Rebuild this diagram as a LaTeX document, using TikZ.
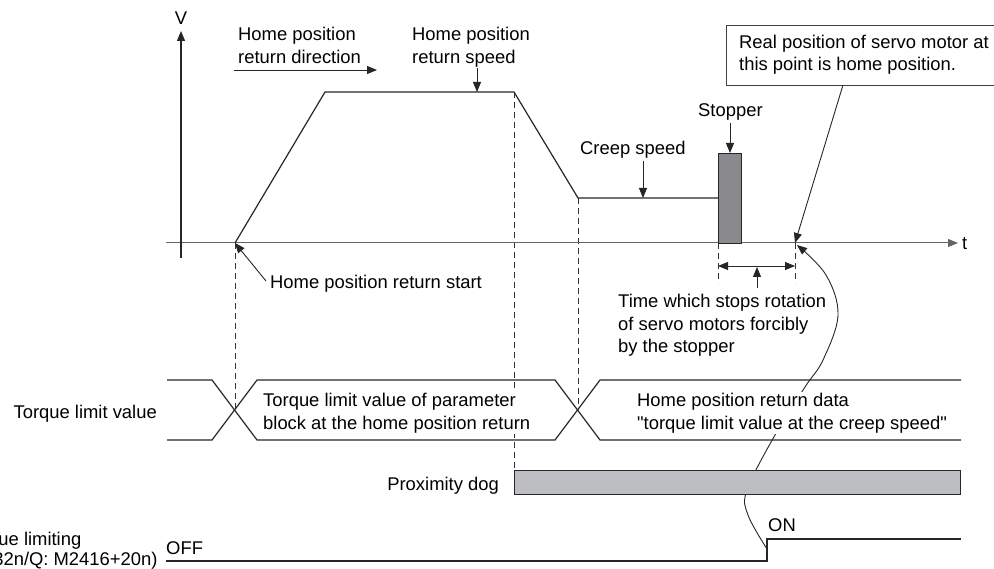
\documentclass[tikz,border=0pt]{standalone}
\usepackage{fontspec}
\setmainfont{Liberation Sans}
\usetikzlibrary{arrows.meta}
\newcommand\lblfont{\fontsize{18.4}{22.5}\selectfont}
\definecolor{stopgray}{HTML}{8A8A8E}
\definecolor{doggray}{HTML}{BDBEC1}
\tikzset{
  lbl/.style={font=\lblfont, inner sep=0pt, align=left},
  wlbl/.style={lbl, fill=white, inner sep=1pt},
  ln/.style={line width=1.2pt, black!85},
  thin/.style={line width=0.9pt, black!85},
  dsh/.style={line width=0.9pt, black!80, dash pattern=on 6pt off 4pt},
  tip/.style={-{Triangle[length=10pt,width=8pt]}},
  tipboth/.style={{Triangle[length=10pt,width=8pt]}-{Triangle[length=10pt,width=8pt]}},
}
\begin{document}
\begin{tikzpicture}[x=1pt,y=-1pt]
\useasboundingbox (0,0) rectangle (994,569);
\clip (0,0) rectangle (994,569);
% key coordinates
\coordinate (o) at (181,243);
\coordinate (vtop) at (181,31);
\coordinate (vbot) at (181,258);
\coordinate (tl) at (166,243);
\coordinate (tr) at (958,243);
\coordinate (p0) at (235,243);
\coordinate (p1) at (325,92);
\coordinate (p2) at (514,92);
\coordinate (p3) at (578,198);
\coordinate (p4) at (718,198);
\coordinate (hp) at (795,243);
% dashed guides
\coordinate (d1b) at (235,410);
\coordinate (d2b) at (514,470);
\coordinate (d3b) at (578,410);
\coordinate (d4b) at (718,283);
\coordinate (d5b) at (795,283);
\draw[dsh] (p0) -- (d1b);
\draw[dsh] (p2) -- (d2b);
\draw[dsh] (p3) -- (d3b);
\draw[dsh] (p4 |- o) -- (d4b);
\draw[dsh] (hp) -- (d5b);
% curved pointer from ON edge to home position
\draw[thin, tip] plot[smooth, tension=0.6] coordinates {(767,549) (748,515) (747,490) (775,435) (805,387) (823,360) (838,315) (826,275) (797,245)};
% axes
\draw[line width=1pt, black!60, tip] (tl) -- (tr);
\draw[ln, tip] (vbot) -- (vtop);
\node[lbl, anchor=base] (V) at (181,25) {V};
\node[lbl, anchor=base west] (t) at (962,250) {t};
% velocity profile
\draw[ln] (p0) -- (p1) -- (p2) -- (p3) -- (p4);
% stopper
\node[draw=black!85, line width=1.2pt, fill=stopgray, minimum width=23pt, minimum height=90pt, inner sep=0pt, anchor=north west] (stop) at (718,153) {};
% labels velocity part
\node[lbl, anchor=base west] (dirl) at (238,63.5) {Home position\\return direction};
\coordinate (da) at (234,70);
\coordinate (db) at (377,70);
\draw[thin, tip] (da) -- (db);
\node[lbl, anchor=base west] (spd) at (412,63.5) {Home position\\return speed};
\coordinate (spda) at (477,68);
\draw[thin, tip] (spda) -- (477,92);
\node[lbl, anchor=base west] (creep) at (580,154.5) {Creep speed};
\coordinate (cra) at (643,161);
\draw[thin, tip] (cra) -- (643,198);
\node[lbl, anchor=base west] (stopl) at (698,116.5) {Stopper};
\coordinate (sta) at (730,123);
\draw[thin, tip] (sta) -- (stop.north -| sta);
% real position box
\node[draw=black!75, line width=1pt, minimum width=280pt, minimum height=60pt, anchor=north west, inner sep=0pt] (rbox) at (726,25) {};
\node[lbl, anchor=base west] (rtext) at (739,71) {Real position of servo motor at\\this point is home position.};
\coordinate (rb) at (843,85);
\draw[thin, tip] (rb) -- (hp);
% home position return start
\node[lbl, anchor=base west] (hstart) at (270,288.5) {Home position return start};
\coordinate (hsa) at (266,281);
\draw[thin, tip] (hsa) -- (p0);
% stop time
\draw[thin, tipboth] (718,266) -- (795,266);
\coordinate (tma) at (757,288);
\draw[thin, tip] (tma) -- (757,267);
\node[lbl, anchor=base west] (tm) at (618,353) {Time which stops rotation\\of servo motors forcibly\\by the stopper};
% torque limit value bus
\draw[ln] (167,380) -- (212,380) -- (257,440) -- (555,440) -- (600,380) -- (961,380);
\draw[ln] (167,440) -- (212,440) -- (257,380) -- (555,380) -- (600,440) -- (961,440);
\node[lbl, anchor=base east] (tlv) at (157,418) {Torque limit value};
\node[wlbl, anchor=base west] (tl1) at (262,429) {Torque limit value of parameter\\block at the home position return};
\node[wlbl, anchor=base west] (tl2) at (636,429) {Home position return data\\\textquotedbl torque limit value at the creep speed\textquotedbl};
% proximity dog
\node[draw=black!85, line width=1.2pt, fill=doggray, minimum width=446pt, minimum height=24pt, inner sep=0pt, anchor=north west] (dog) at (514,470) {};
\node[lbl, anchor=base east] (dogl) at (499,490) {Proximity dog};
% torque limiting signal
\draw[ln] (166,561) -- (767,561) -- (767,539) -- (961,539);
\node[lbl, anchor=base west] (off) at (166,554.5) {OFF};
\node[lbl, anchor=base west] (on) at (768,531) {ON};
\node[lbl, anchor=base, align=center, font=\fontsize{18.4}{20}\selectfont] (tls) at (22,565.5) {Torque limiting\\(R: M32416+32n/Q: M2416+20n)};
\end{tikzpicture}
\end{document}
